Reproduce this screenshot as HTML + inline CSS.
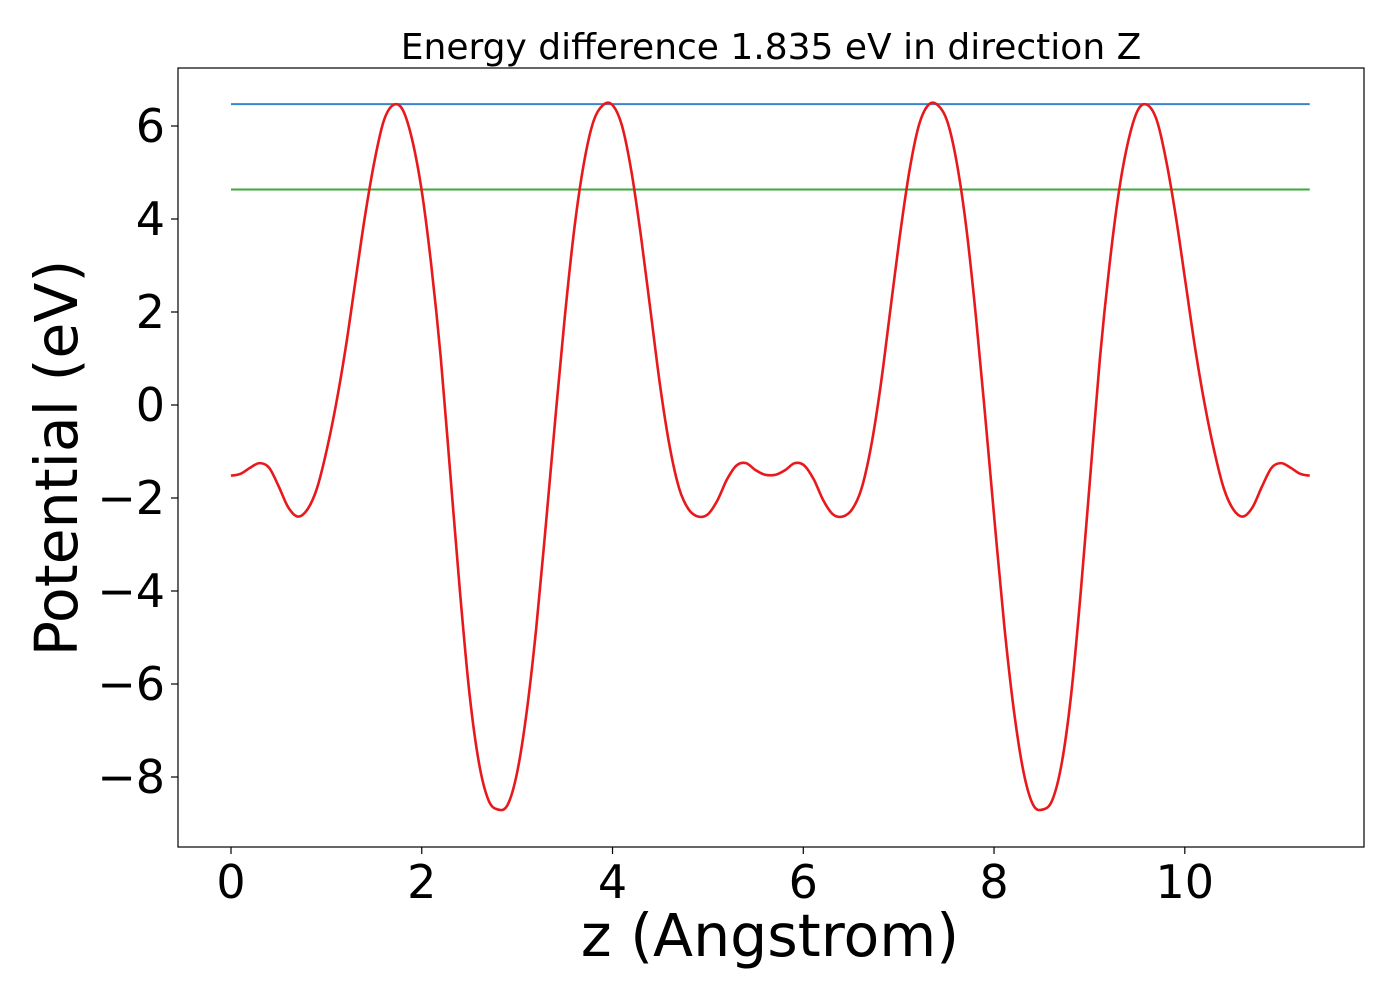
<!DOCTYPE html>
<html><head><meta charset="utf-8"><style>
html,body{margin:0;padding:0;background:#fff;}
svg text{font-family:"DejaVu Sans","Liberation Sans",sans-serif;fill:#000;}
</style></head><body>
<svg id="chart" width="1400" height="1000" viewBox="0 0 1400 1000" xmlns="http://www.w3.org/2000/svg">
<rect x="0" y="0" width="1400" height="1000" fill="#fff"/>
<text x="771" y="59" font-size="36" text-anchor="middle">Energy difference 1.835 eV in direction Z</text>
<g id="xticks"></g>
<g id="yticks"></g>
<g id="series"></g>
<rect x="178" y="68" width="1186" height="779" fill="none" stroke="#000" stroke-width="1.2"/>
<text x="770" y="956" font-size="58.5" text-anchor="middle">z (Angstrom)</text>
<text transform="translate(77,458) rotate(-90)" font-size="58.5" text-anchor="middle">Potential (eV)</text>
</svg>
<script>
const xTicks=[0,2,4,6,8,10];
const yTicks=[6,4,2,0,-2,-4,-6,-8];
const zVals=[0,0.1,0.2,0.3,0.4,0.5,0.6,0.7,0.8,0.9,1.0,1.1,1.2,1.3,1.4,1.5,1.6,1.7,1.8,1.9,2.0,2.1,2.2,2.3,2.4,2.5,2.6,2.7,2.8,2.9,3.0,3.1,3.2,3.3,3.4,3.5,3.6,3.7,3.8,3.9,4.0,4.1,4.2,4.3,4.4,4.5,4.6,4.7,4.8,4.9,5.0,5.1,5.2,5.3,5.4,5.5,5.6,
5.71,5.81,5.91,6.01,6.11,6.21,6.31,6.41,6.51,6.61,6.71,6.81,6.91,7.01,7.11,7.21,7.31,7.41,7.51,7.61,7.71,7.81,7.91,8.01,8.11,8.21,8.31,8.41,8.51,8.61,8.71,8.81,8.91,9.01,9.11,9.21,9.31,9.41,9.51,9.61,9.71,9.81,9.91,10.01,10.11,10.21,10.31,10.41,10.51,10.61,10.71,10.81,10.91,11.01,11.11,11.21,11.31];
const potVals=[-1.52,-1.48,-1.35,-1.25,-1.35,-1.75,-2.2,-2.4,-2.25,-1.8,-1.0,0.0,1.2,2.6,4.0,5.2,6.1,6.45,6.35,5.7,4.6,3.0,1.0,-1.5,-4.0,-6.2,-7.7,-8.5,-8.7,-8.6,-7.9,-6.6,-4.8,-2.6,-0.3,1.9,3.8,5.2,6.1,6.45,6.45,6.0,5.0,3.6,2.0,0.4,-0.9,-1.8,-2.25,-2.4,-2.35,-2.05,-1.6,-1.3,-1.25,-1.4,-1.5,
-1.5,-1.4,-1.25,-1.3,-1.6,-2.05,-2.35,-2.4,-2.25,-1.8,-0.9,0.4,2.0,3.6,5.0,6.0,6.45,6.45,6.1,5.2,3.8,1.9,-0.3,-2.6,-4.8,-6.6,-7.9,-8.6,-8.7,-8.5,-7.7,-6.2,-4.0,-1.5,1.0,3.0,4.6,5.7,6.35,6.45,6.1,5.2,4.0,2.6,1.2,0.0,-1.0,-1.8,-2.25,-2.4,-2.2,-1.75,-1.35,-1.25,-1.35,-1.48,-1.52];
const vbmLevel=[6.47];
const cbmLevel=[4.635];
const NS="http://www.w3.org/2000/svg";
function X(v){return 231+v*95.38;}
function Y(v){return 405-v*46.5;}
function mk(tag,attrs,parent){const e=document.createElementNS(NS,tag);for(const k in attrs)e.setAttribute(k,attrs[k]);parent.appendChild(e);return e;}
const xg=document.getElementById('xticks'),yg=document.getElementById('yticks'),sg=document.getElementById('series');
xTicks.forEach(t=>{
 const l=mk('line',{x1:X(t),x2:X(t),y1:847,y2:854,stroke:'#000','stroke-width':1.2},xg);
 
 
 const tx=mk('text',{x:X(t),y:898,'font-size':46,'text-anchor':'middle'},xg);
 tx.textContent=String(t);
 
 
});
yTicks.forEach(t=>{
 const l=mk('line',{x1:171,x2:178,y1:Y(t),y2:Y(t),stroke:'#000','stroke-width':1.2},yg);
 
 
 const tx=mk('text',{x:165,y:Y(t)+16,'font-size':46,'text-anchor':'end'},yg);
 tx.textContent=t<0?'\u2212'+Math.abs(t):String(t);
 
 
});
const x0=X(zVals[0]),x1=X(zVals[zVals.length-1]);
const b=mk('line',{x1:x0,x2:x1,y1:Y(vbmLevel[0]),y2:Y(vbmLevel[0]),stroke:'#3a85c8','stroke-width':2},sg);


const g=mk('line',{x1:x0,x2:x1,y1:Y(cbmLevel[0]),y2:Y(cbmLevel[0]),stroke:'#3aab3a','stroke-width':2},sg);


const P=zVals.map((z,i)=>[X(z),Y(potVals[i])]);
let d='M'+P[0][0]+','+P[0][1];
for(let i=0;i<P.length-1;i++){
 const p0=P[Math.max(i-1,0)],p1=P[i],p2=P[i+1],p3=P[Math.min(i+2,P.length-1)];
 const c1=[p1[0]+(p2[0]-p0[0])/6,p1[1]+(p2[1]-p0[1])/6];
 const c2=[p2[0]-(p3[0]-p1[0])/6,p2[1]-(p3[1]-p1[1])/6];
 d+=' C'+c1[0]+','+c1[1]+' '+c2[0]+','+c2[1]+' '+p2[0]+','+p2[1];
}
const pl=mk('path',{d:d,fill:'none',stroke:'#e8191c','stroke-width':2.6},sg);


</script>
</body></html>
